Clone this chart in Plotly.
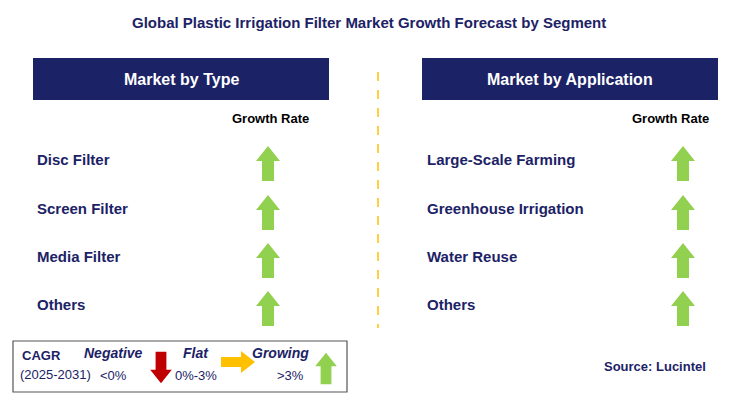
import plotly.graph_objects as go

title = "Global Plastic Irrigation Filter Market Growth Forecast by Segment"
type_segments = ["Disc Filter", "Screen Filter", "Media Filter", "Others"]
type_growth = ["Growing", "Growing", "Growing", "Growing"]
app_segments = ["Large-Scale Farming", "Greenhouse Irrigation", "Water Reuse", "Others"]
app_growth = ["Growing", "Growing", "Growing", "Growing"]
row_y = [159, 208, 256, 304]

NAVY = "#1c2266"
GREEN = "#92d050"
RED = "#c00000"
ORANGE = "#ffc000"
FONT = "Liberation Sans"

fig = go.Figure()
shapes, ann = [], []

def up(cx, cy, s=1.0, color=GREEN):
    hw, sw, top, bot, hh = 12*s, 6*s, cy-17*s, cy+18*s, 15*s
    return dict(type="path", path=f"M{cx-sw},{bot} L{cx-sw},{top+hh} L{cx-hw},{top+hh} L{cx},{top} L{cx+hw},{top+hh} L{cx+sw},{top+hh} L{cx+sw},{bot} Z",
                fillcolor=color, line=dict(width=0))

def down(cx, cy, s=1.0):
    hw, sw, top, bot, hh = 12*s, 6*s, cy-17*s, cy+18*s, 15*s
    return dict(type="path", path=f"M{cx-sw},{top} L{cx-sw},{bot-hh} L{cx-hw},{bot-hh} L{cx},{bot} L{cx+hw},{bot-hh} L{cx+sw},{bot-hh} L{cx+sw},{top} Z",
                fillcolor=RED, line=dict(width=0))

def right(cx, cy):
    return dict(type="path", path=f"M{cx-17},{cy-5} L{cx+3},{cy-5} L{cx+3},{cy-11} L{cx+17},{cy} L{cx+3},{cy+11} L{cx+3},{cy+5} L{cx-17},{cy+5} Z",
                fillcolor=ORANGE, line=dict(width=0))

def txt(x, y, t, size=14, color=NAVY, bold=True, italic=False, anchor="left"):
    s = t
    if bold: s = f"<b>{s}</b>"
    if italic: s = f"<i>{s}</i>"
    ann.append(dict(x=x, y=y, text=s, showarrow=False, xanchor=anchor, yanchor="middle",
                    font=dict(size=size, color=color, family=FONT)))

txt(369, 22, title, size=15, anchor="center")
for x0, x1, lab, gx, lx, segs, gr in [(33, 329, "Market by Type", 270, 35, type_segments, type_growth),
                                       (422, 718, "Market by Application", 670, 425, app_segments, app_growth)]:
    shapes.append(dict(type="rect", x0=x0, x1=x1, y0=58, y1=100, fillcolor=NAVY, line=dict(width=0)))
    txt((x0+x1)/2, 79, lab, size=16, color="white", anchor="center")
    txt(gx, 118, "Growth Rate", size=13, color="black", anchor="center")
    for s, g, y in zip(segs, gr, row_y):
        txt(lx, y, s, size=15)
        if g == "Growing":
            shapes.append(up(gx - 2 if gx < 400 else gx + 13, y + 4))
        elif g == "Negative":
            shapes.append(down(gx, y + 4))
        else:
            shapes.append(right(gx, y + 4))

shapes.append(dict(type="line", x0=378, x1=378, y0=72, y1=328, line=dict(color=ORANGE, width=1.5, dash="dash")))

# legend
shapes.append(dict(type="rect", x0=13, x1=347, y0=341, y1=392, line=dict(color="#555555", width=1.2)))
txt(20, 355, "CAGR", size=13)
txt(18, 374, "(2025-2031)", size=13, bold=False)
txt(113, 353, "Negative", size=14, italic=True, anchor="center")
txt(113, 375, "&lt;0%", size=13, bold=False, anchor="center")
shapes.append(down(161, 367, 0.9))
txt(196, 353, "Flat", size=14, italic=True, anchor="center")
txt(196, 375, "0%-3%", size=13, bold=False, anchor="center")
shapes.append(right(238, 362))
txt(280, 353, "Growing", size=14, italic=True, anchor="center")
txt(290, 375, "&gt;3%", size=13, bold=False, anchor="center")
shapes.append(up(326, 368, 0.9))

txt(708, 366, "Source: Lucintel", size=13, anchor="right")

# page body adds an 8px offset; shift the view to compensate
fig.update_layout(width=738, height=402, margin=dict(l=0, r=0, t=0, b=0),
                  plot_bgcolor="white", paper_bgcolor="white",
                  xaxis=dict(range=[8, 746], visible=False, fixedrange=True),
                  yaxis=dict(range=[410, 8], visible=False, fixedrange=True),
                  shapes=shapes, annotations=ann, showlegend=False)
fig.write_html("out.html", config={"displayModeBar": False})
